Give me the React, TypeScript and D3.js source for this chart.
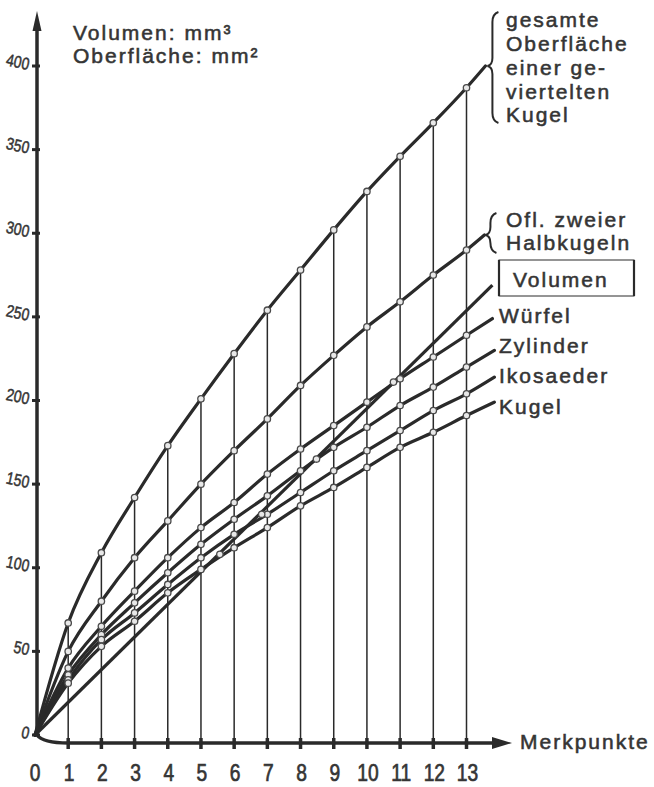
import { useEffect, useRef } from 'react'
import * as d3 from 'd3'

// Merkpunkte on the x axis
const merkpunkte = [0, 1, 2, 3, 4, 5, 6, 7, 8, 9, 10, 11, 12, 13]

// Oberfläche (mm²) / Volumen (mm³)
const geviertelteKugel = [0, 67, 109, 142, 173, 201, 228, 254, 278, 302, 325, 346, 366, 387]
const zweiHalbkugeln = [0, 50, 80, 106, 128, 150, 170, 189, 209, 227, 244, 259, 275, 290]
const wuerfel = [0, 40, 65, 86, 106, 124, 139, 156, 171, 185, 199, 213, 226, 239]
const zylinder = [0, 36, 60, 79, 97, 114, 129, 143, 158, 172, 184, 197, 208, 220]
const ikosaeder = [0, 33, 57, 73, 90, 106, 120, 132, 145, 158, 170, 182, 194, 204]
const kugel = [0, 31, 53, 68, 85, 99, 112, 124, 137, 148, 160, 172, 181, 191]

const seriesValues = [geviertelteKugel, zweiHalbkugeln, wuerfel, zylinder, ikosaeder, kugel]
// where each line runs out to its label
const seriesEndX = [13.57, 13.54, 13.78, 13.84, 13.84, 13.84]
const seriesEndY = [400, 299, 249, 230, 214, 199]

// Volumen: straight line from the origin
const volumenX = [0, 13.78]
const volumenY = [0, 269]
const volumenMarkX = [5.57, 6.83, 8.48, 10.8]
const volumenMarkY = [108, 132, 165, 211]

const yTicks = [0, 50, 100, 150, 200, 250, 300, 350, 400]
const xTickLabels = ['0', '1', '2', '3', '4', '5', '6', '7', '8', '9', '10', '11', '12', '13']

const titleLines = ['Volumen: mm³', 'Oberfläche: mm²']
const topLabel = ['gesamte', 'Oberfläche', 'einer ge-', 'viertelten', 'Kugel']
const oflLabel = ['Ofl. zweier', 'Halbkugeln']
const smallLabels = ['Würfel', 'Zylinder', 'Ikosaeder', 'Kugel']

const INK = '#2a2a2a'
const TEXT = '#353535'
const FONT = '"Liberation Sans", Arial, Helvetica, sans-serif'

export default function App() {
  const svgRef = useRef<SVGSVGElement>(null)

  useEffect(() => {
    if (!svgRef.current) return
    const svg = d3.select(svgRef.current)
    svg.selectAll('*').remove()

    const W = 654
    const H = 787
    svg.attr('width', W).attr('height', H)
    svg.append('rect').attr('width', W).attr('height', H).attr('fill', '#fff')

    const x = d3.scaleLinear().domain([0, 13]).range([35, 466.5])
    const y = d3.scaleLinear().domain([0, 400]).range([735, 66])
    const axisX = 37
    const axisY = 743

    const line = d3.line<[number, number]>()
      .x(d => x(d[0]))
      .y(d => y(d[1]))
      .curve(d3.curveMonotoneX)

    // vertical lines up to the top curve
    merkpunkte.slice(1).forEach((m, i) => {
      svg.append('line')
        .attr('x1', x(m)).attr('x2', x(m))
        .attr('y1', axisY).attr('y2', y(geviertelteKugel[i + 1]))
        .attr('stroke', INK).attr('stroke-width', 1.5)
    })

    // curves
    seriesValues.forEach((vals, s) => {
      const pts: [number, number][] = merkpunkte.map((m, i) => [m, vals[i]])
      pts.push([seriesEndX[s], seriesEndY[s]])
      svg.append('path')
        .attr('d', line(pts))
        .attr('fill', 'none')
        .attr('stroke', INK)
        .attr('stroke-width', 3.2)
        .attr('stroke-linecap', 'round')
    })

    svg.append('path')
      .attr('d', d3.line<[number, number]>().x(d => x(d[0])).y(d => y(d[1]))(
        volumenX.map((v, i) => [v, volumenY[i]] as [number, number])))
      .attr('fill', 'none').attr('stroke', INK).attr('stroke-width', 3.2)

    // markers
    const marker = (cx: number, cy: number) =>
      svg.append('circle')
        .attr('cx', cx).attr('cy', cy).attr('r', 3.2)
        .attr('fill', '#e8e8e8').attr('stroke', '#4a4a4a').attr('stroke-width', 1.3)
    seriesValues.forEach(vals => {
      merkpunkte.slice(1).forEach((m, i) => marker(x(m), y(vals[i + 1])))
    })
    volumenMarkX.forEach((m, i) => marker(x(m), y(volumenMarkY[i])))

    // y axis
    svg.append('line')
      .attr('x1', axisX).attr('x2', axisX).attr('y1', y(0)).attr('y2', 28)
      .attr('stroke', INK).attr('stroke-width', 3.5)
    svg.append('path')
      .attr('d', `M${axisX},11 L${axisX - 4.5},31 L${axisX + 4.5},31 Z`)
      .attr('fill', INK)
    yTicks.forEach(t => {
      svg.append('line')
        .attr('x1', axisX - 5).attr('x2', axisX + 3)
        .attr('y1', y(t)).attr('y2', y(t))
        .attr('stroke', INK).attr('stroke-width', 3)
      svg.append('text')
        .attr('transform', `translate(28,${y(t) + 4}) rotate(12) scale(0.82,1)`)
        .attr('text-anchor', 'end')
        .attr('font-family', FONT).attr('font-size', 17)
        .attr('fill', TEXT).attr('stroke', TEXT).attr('stroke-width', 0.5)
        .text(String(t))
    })

    // x axis (slightly bent at the origin, as drawn)
    svg.append('path')
      .attr('d', `M${axisX},${y(0)} Q${axisX + 6},${axisY} ${x(1)},${axisY} L496,${axisY}`)
      .attr('fill', 'none').attr('stroke', INK).attr('stroke-width', 3.5)
    svg.append('path')
      .attr('d', `M512,${axisY} L492,${axisY - 6} L492,${axisY + 6} Z`)
      .attr('fill', INK)
    merkpunkte.slice(1).forEach(m => {
      svg.append('line')
        .attr('x1', x(m)).attr('x2', x(m))
        .attr('y1', axisY - 5).attr('y2', axisY + 6)
        .attr('stroke', INK).attr('stroke-width', 3.5)
    })
    merkpunkte.forEach((m, i) => {
      svg.append('text')
        .attr('transform', `translate(${x(m) + (i === 0 ? 0 : 1)},781) scale(0.8,1)`)
        .attr('text-anchor', 'middle')
        .attr('font-family', FONT).attr('font-size', 24)
        .attr('fill', TEXT).attr('stroke', TEXT).attr('stroke-width', 0.7)
        .text(xTickLabels[i])
    })

    const label = (txt: string, lx: number, ly: number) =>
      svg.append('text')
        .attr('x', lx).attr('y', ly)
        .attr('font-family', FONT).attr('font-size', 21)
        .attr('letter-spacing', 2)
        .attr('fill', TEXT).attr('stroke', TEXT).attr('stroke-width', 0.55)
        .text(txt)

    label('Merkpunkte', 520, 749)

    // units title
    titleLines.forEach((t, i) => label(t, 73, 40 + i * 23))

    // braces
    const brace = (px: number, py: number, top: number, bottom: number) => {
      const bx = px + 5
      svg.append('path')
        .attr('d', `M${bx + 6},${top} Q${bx},${top + 2} ${bx},${top + 10} L${bx},${py - 8}` +
          ` Q${bx},${py - 1} ${px},${py} Q${bx},${py + 1} ${bx},${py + 8}` +
          ` L${bx},${bottom - 10} Q${bx},${bottom - 2} ${bx + 6},${bottom}`)
        .attr('fill', 'none').attr('stroke', INK).attr('stroke-width', 2)
    }
    brace(x(seriesEndX[0]) + 2, y(seriesEndY[0]), 12, 123)
    brace(x(seriesEndX[1]) + 1, y(seriesEndY[1]), 213, 253)

    const topY = [27, 51, 75, 99, 122]
    topLabel.forEach((t, i) => label(t, 506, topY[i]))
    oflLabel.forEach((t, i) => label(t, 506, 227 + i * 23))

    // Volumen box
    svg.append('rect')
      .attr('x', 499).attr('y', 260).attr('width', 135).attr('height', 36)
      .attr('fill', 'none').attr('stroke', INK).attr('stroke-width', 1)
    ;[499, 634].forEach(bx => {
      svg.append('line').attr('x1', bx).attr('x2', bx).attr('y1', 260).attr('y2', 296)
        .attr('stroke', INK).attr('stroke-width', 2.2)
    })
    label('Volumen', 513, 287)

    const smallY = [323, 353, 383, 414]
    smallLabels.forEach((t, i) => label(t, 499, smallY[i]))
  }, [])

  return (
    <div style={{ position: 'absolute', left: 0, top: 0 }}>
      <svg ref={svgRef} style={{ display: 'block' }} />
    </div>
  )
}
